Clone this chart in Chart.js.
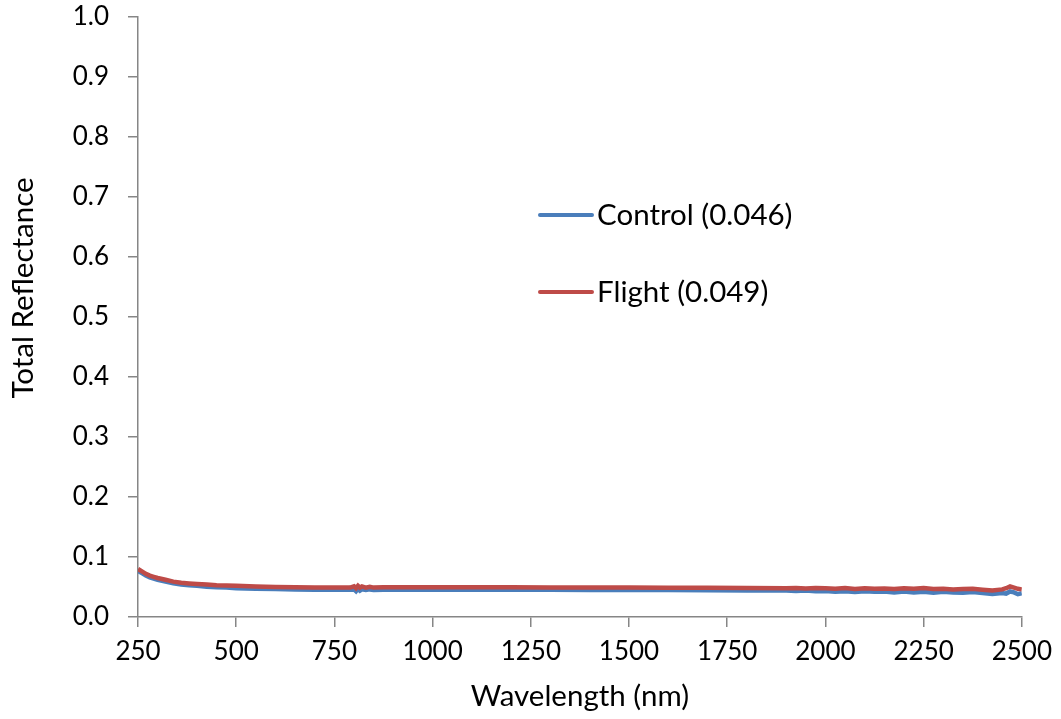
<!DOCTYPE html>
<html>
<head>
<meta charset="utf-8">
<script src="https://cdn.jsdelivr.net/npm/chart.js@4/dist/chart.umd.min.js"></script>
<style>
  html, body { margin: 0; padding: 0; background: #fff; }
  #wrap { width: 1061px; height: 719px; }
</style>
</head>
<body>
<div id="wrap"><canvas id="chart" width="1061" height="719"></canvas></div>
<script>
/* global Chart */

// wavelength (nm)
const wavelengths = [
   250, 260, 270, 280, 290, 300, 320, 340, 360, 380,
   400, 425, 450, 475, 500, 550, 600, 650, 700, 750,
   790, 800, 805, 810, 815, 820, 830, 840, 850, 875,
   900, 950, 1000, 1100, 1200, 1300, 1400, 1500, 1600, 1700,
   1800, 1900, 1925, 1950, 1975, 2000, 2025, 2050, 2075, 2100,
   2125, 2150, 2175, 2200, 2225, 2250, 2275, 2300, 2325, 2350,
   2375, 2400, 2425, 2450, 2460, 2470, 2480, 2490, 2500,
];

const controlValues = [
   0.077, 0.073, 0.069, 0.066, 0.064, 0.062, 0.059, 0.056, 0.054, 0.053,
   0.052, 0.0505, 0.0495, 0.049, 0.048, 0.047, 0.0465, 0.046, 0.0455, 0.0455,
   0.0455, 0.046, 0.043, 0.047, 0.044, 0.046, 0.045, 0.046, 0.0452, 0.0455,
   0.0455, 0.0455, 0.0455, 0.0455, 0.0455, 0.0453, 0.0452, 0.045, 0.0448, 0.0445,
   0.0443, 0.044, 0.0435, 0.044, 0.043, 0.0435, 0.042, 0.043, 0.0415, 0.043,
   0.042, 0.0425, 0.041, 0.0425, 0.041, 0.042, 0.0405, 0.042, 0.041, 0.0405,
   0.0415, 0.04, 0.0385, 0.04, 0.039, 0.0425, 0.041, 0.038, 0.0395,
];

const flightValues = [
   0.08, 0.076, 0.072, 0.069, 0.067, 0.065, 0.062, 0.059, 0.057, 0.056,
   0.055, 0.054, 0.053, 0.0525, 0.052, 0.051, 0.05, 0.0495, 0.049, 0.049,
   0.049, 0.051, 0.048, 0.052, 0.049, 0.051, 0.049, 0.0505, 0.049, 0.0495,
   0.0495, 0.0495, 0.0495, 0.0495, 0.0495, 0.0493, 0.0492, 0.049, 0.0488, 0.0487,
   0.0485, 0.048, 0.0485, 0.0475, 0.0485, 0.048, 0.047, 0.0485, 0.0465, 0.048,
   0.047, 0.0475, 0.0465, 0.048, 0.047, 0.0485, 0.0465, 0.047, 0.046, 0.0465,
   0.047, 0.0455, 0.044, 0.046, 0.048, 0.051, 0.049, 0.047, 0.046,
];

const seriesLabels = ["Control (0.046)", "Flight (0.049)"];

const xTitle = "Wavelength (nm)";
const yTitle = "Total Reflectance";

const FONT = "Lato, 'Open Sans', sans-serif";
const TICK_SIZE = 26;
const TEXT_SIZE = 29.5;
const AXIS_GREY = "#868686";
const BLUE = "#4a7ebb";
const RED = "#be4b48";

const toPoints = (values) =>
   values.map((v, i) => ({ x: wavelengths[i], y: v }));

// legend sits inside the plot and the y title sits a bit above centre,
// both drawn by hand
const extras = {
   id: "extras",
   afterDatasetsDraw(chart) {
      const ctx = chart.ctx;
      const rows = [215, 292];
      ctx.save();
      ctx.font = TEXT_SIZE + "px " + FONT;
      ctx.textBaseline = "middle";
      chart.data.datasets.forEach((ds, i) => {
         const y = rows[i];
         ctx.strokeStyle = ds.borderColor;
         ctx.lineWidth = 4;
         ctx.lineCap = "round";
         ctx.beginPath();
         ctx.moveTo(540, y);
         ctx.lineTo(592, y);
         ctx.stroke();
         ctx.fillStyle = "#000";
         ctx.textAlign = "left";
         ctx.fillText(ds.label, 597, y);
      });

      ctx.translate(23, 288);
      ctx.rotate(-Math.PI / 2);
      ctx.textAlign = "center";
      ctx.fillStyle = "#000";
      ctx.fillText(yTitle, 0, 0);
      ctx.restore();
   },
};

new Chart(document.getElementById("chart"), {
   type: "line",
   data: {
      datasets: [
         {
            label: seriesLabels[0],
            data: toPoints(controlValues),
            borderColor: BLUE,
            backgroundColor: BLUE,
            borderWidth: 4.5,
            pointRadius: 0,
            tension: 0,
            order: 2,
         },
         {
            label: seriesLabels[1],
            data: toPoints(flightValues),
            borderColor: RED,
            backgroundColor: RED,
            borderWidth: 4.5,
            pointRadius: 0,
            tension: 0,
            order: 1,
         },
      ],
   },
   options: {
      responsive: false,
      animation: false,
      layout: { padding: { left: 0, top: 17, right: 35, bottom: 0 } },
      plugins: {
         legend: { display: false },
         tooltip: { enabled: false },
      },
      scales: {
         x: {
            type: "linear",
            min: 250,
            max: 2500,
            afterFit(scale) {
               scale.height = 102;
            },
            ticks: {
               stepSize: 250,
               color: "#000",
               font: { family: FONT, size: TICK_SIZE },
               padding: 9,
               maxRotation: 0,
               callback: (v) => String(v),
            },
            grid: {
               drawOnChartArea: false,
               drawTicks: true,
               tickLength: 10,
               color: AXIS_GREY,
               lineWidth: 1.5,
            },
            border: { display: true, color: AXIS_GREY, width: 1.5 },
            title: {
               display: true,
               text: xTitle,
               color: "#000",
               font: { family: FONT, size: TEXT_SIZE },
               padding: { top: 0, bottom: 5 },
            },
         },
         y: {
            min: 0,
            max: 1,
            afterFit(scale) {
               scale.width = 138;
               // keep the label overflow from pushing the plot down
               scale.paddingTop = 0;
               scale.paddingBottom = 0;
            },
            ticks: {
               stepSize: 0.1,
               color: "#000",
               font: { family: FONT, size: TICK_SIZE },
               padding: 19,
               callback: (v) => Number(v).toFixed(1),
            },
            grid: {
               drawOnChartArea: false,
               drawTicks: true,
               tickLength: 10,
               color: AXIS_GREY,
               lineWidth: 1.5,
            },
            border: { display: true, color: AXIS_GREY, width: 1.5 },
            title: { display: false },
         },
      },
   },
   plugins: [extras],
});
</script>
</body>
</html>
